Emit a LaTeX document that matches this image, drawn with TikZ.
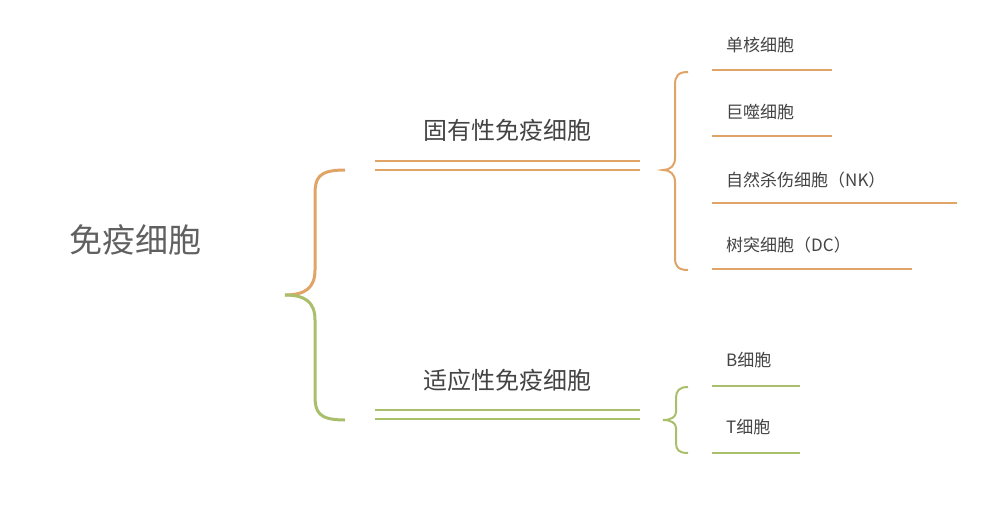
\documentclass[tikz,border=0pt]{standalone}
\usepackage{fontspec}
\setmainfont{Noto Sans CJK SC}
\begin{document}
\begin{tikzpicture}[x=1pt,y=-1pt]
\definecolor{org}{HTML}{E0A566}
\definecolor{grn}{HTML}{A9BF6C}
\definecolor{txt}{HTML}{444444}
\tikzset{lbl/.style={text=txt,inner sep=0pt,font=\fontsize{17}{20}\selectfont,anchor=west},
mid/.style={text=txt,inner sep=0pt,font=\fontsize{24}{28}\selectfont}}
\useasboundingbox (0,0) rectangle (1000,514);
\fill[white] (0,0) rectangle (1000,514);
\node[text=txt!85,font=\fontsize{33}{38}\selectfont] (root) at (135,240) {免疫细胞};
% big brace
\draw[org,line width=3pt] (345,170) .. controls (318,170) and (315,178) .. (315,195) -- (315,270) .. controls (315,288) and (305,295) .. (285,295);
\draw[grn,line width=3pt] (285,295) .. controls (305,295) and (315,302) .. (315,320) -- (315,395) .. controls (315,412) and (318,420) .. (345,420);
% mid labels
\node[mid] (a) at (507,130) {固有性免疫细胞};
\node[mid] (b) at (507,380) {适应性免疫细胞};
\draw[org,line width=2pt] (375,161) -- (640,161) (375,170) -- (640,170);
\draw[grn,line width=2pt] (375,410) -- (640,410) (375,419) -- (640,419);
% small braces
\draw[org,line width=2pt] (688,72) .. controls (678,72) and (675,76) .. (675,85) -- (675,158) .. controls (675,166) and (670,170) .. (663,170) .. controls (670,170) and (675,174) .. (675,182) -- (675,258) .. controls (675,266) and (678,270) .. (688,270);
\draw[grn,line width=2pt] (688,387) .. controls (679,387) and (676,391) .. (676,398) -- (676,412) .. controls (676,417) and (671,420) .. (663,420) .. controls (671,420) and (676,423) .. (676,428) -- (676,443) .. controls (676,450) and (679,453) .. (688,453);
% items
\node[lbl] (i1) at (726,45) {单核细胞};
\node[lbl] (i2) at (726,112) {巨噬细胞};
\node[lbl] (i3) at (726,180) {自然杀伤细胞（NK）};
\node[lbl] (i4) at (726,245) {树突细胞（DC）};
\node[lbl] (i5) at (726,360) {B细胞};
\node[lbl] (i6) at (726,427) {T细胞};
\draw[org,line width=2pt] (712,70) -- (832,70) (712,136) -- (832,136) (712,203) -- (957,203) (712,269) -- (912,269);
\draw[grn,line width=2pt] (712,386) -- (800,386) (712,453) -- (800,453);
\end{tikzpicture}
\end{document}
